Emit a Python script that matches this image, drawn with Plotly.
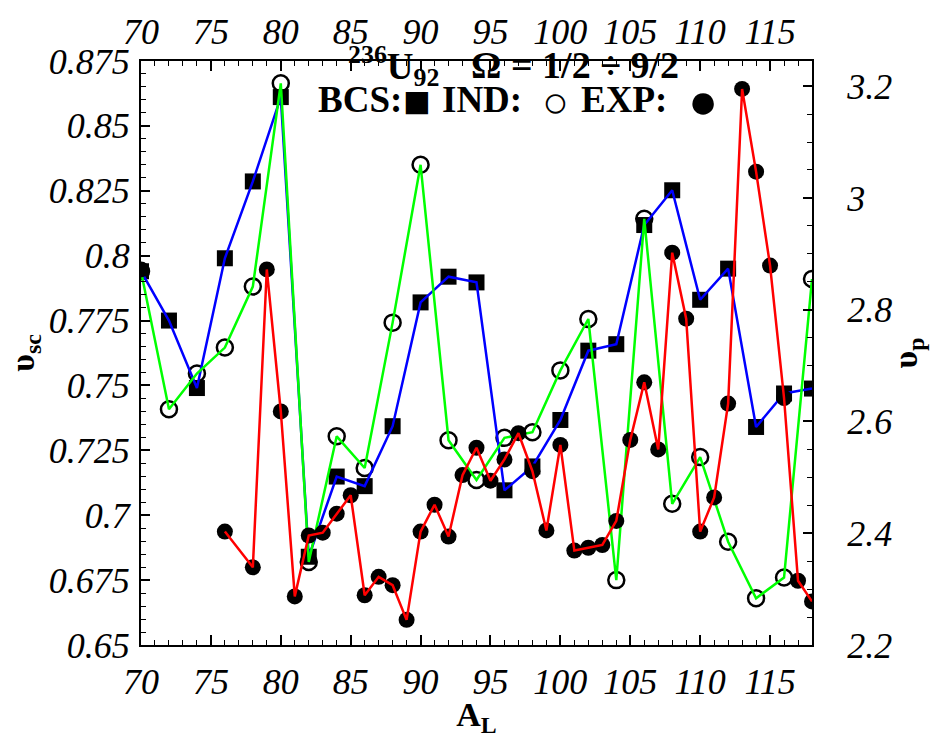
import plotly.graph_objects as go

# ---------------- data ----------------
A_even = [70, 72, 74, 76, 78, 80, 82, 84, 86, 88, 90, 92, 94, 96, 98, 100,
          102, 104, 106, 108, 110, 112, 114, 116, 118]
bcs = [0.794, 0.775, 0.749, 0.799, 0.8286, 0.8611, 0.684, 0.7149, 0.7112, 0.7343,
       0.782, 0.7919, 0.7897, 0.7096, 0.7188, 0.7367, 0.7634, 0.7659, 0.8118,
       0.8252, 0.783, 0.795, 0.734, 0.7469, 0.7488]
ind = [0.794, 0.7408, 0.7546, 0.7646, 0.7881, 0.8664, 0.682, 0.7304, 0.7182, 0.7742,
       0.835, 0.7289, 0.7136, 0.7298, 0.732, 0.7558, 0.7756, 0.675, 0.8142,
       0.7044, 0.7224, 0.6898, 0.668, 0.676, 0.791]

# experimental values (right axis); None marks a break in the line
A_exp = [70, 75, 76, 78, 79, 80, 81, 82, 83, 84, 85, 86, 87, 88, 89, 90, 91, 92,
         93, 94, 95, 96, 97, 98, 99, 100, 101, 102, 103, 104, 105, 106, 107, 108,
         109, 110, 111, 112, 113, 114, 115, 116, 117, 118]
exp_vals = [2.872, None, 2.403, 2.339, 2.872, 2.618, 2.287, 2.396, 2.401, 2.435,
            2.468, 2.289, 2.322, 2.307, 2.245, 2.403, 2.451, 2.394, 2.504, 2.553,
            2.494, 2.532, 2.579, 2.511, 2.405, 2.558, 2.369, 2.374, 2.379, 2.422,
            2.567, 2.670, 2.550, 2.902, 2.784, 2.403, 2.464, 2.632, 3.195, 3.047,
            2.879, 2.642, 2.315, 2.278]

x_ticks = [70, 75, 80, 85, 90, 95, 100, 105, 110, 115]

# ---------------- figure ----------------
fig = go.Figure()

# markers first (lines are drawn over them in the reference)
fig.add_trace(go.Scatter(x=A_even, y=bcs, mode="markers",
                         marker=dict(symbol="square", size=16, color="black"),
                         showlegend=False, hoverinfo="skip"))
fig.add_trace(go.Scatter(x=A_even, y=ind, mode="markers",
                         marker=dict(symbol="circle-open", size=16, color="black",
                                     line=dict(width=2.5, color="black")),
                         showlegend=False, hoverinfo="skip"))
fig.add_trace(go.Scatter(x=A_exp, y=exp_vals, mode="markers", yaxis="y2",
                         marker=dict(symbol="circle", size=16, color="black"),
                         showlegend=False, hoverinfo="skip"))

# lines
fig.add_trace(go.Scatter(x=A_even, y=bcs, mode="lines",
                         line=dict(color="#0000ff", width=2.5),
                         showlegend=False, hoverinfo="skip"))
fig.add_trace(go.Scatter(x=A_even, y=ind, mode="lines",
                         line=dict(color="#00ff00", width=2.5),
                         showlegend=False, hoverinfo="skip"))
fig.add_trace(go.Scatter(x=A_exp, y=exp_vals, mode="lines", yaxis="y2",
                         line=dict(color="#ff0000", width=2.5),
                         connectgaps=False,
                         showlegend=False, hoverinfo="skip"))

# invisible trace to anchor the top x axis
fig.add_trace(go.Scatter(x=A_even, y=bcs, xaxis="x2", mode="markers",
                         marker=dict(opacity=0), showlegend=False, hoverinfo="skip"))

tickfont = dict(family="Liberation Serif", size=36, color="black", style="italic")
minor_x = dict(dtick=1, ticks="inside", ticklen=5, tickcolor="black", tickwidth=1)

fig.update_layout(
    width=930, height=738,
    margin=dict(l=141, r=98, t=36, b=89),
    paper_bgcolor="white", plot_bgcolor="white",
    xaxis=dict(range=[70, 118], tickvals=x_ticks, ticks="inside", ticklen=10,
               tickwidth=1.5, tickcolor="black", minor=minor_x,
               showline=True, linecolor="black", linewidth=2, mirror=True,
               showgrid=False, zeroline=False, tickfont=tickfont, ticklabelstandoff=4,
               title=dict(text="<b>A<sub>L</sub></b>",
                          font=dict(family="Liberation Serif", size=34, color="black"),
                          standoff=0)),
    xaxis2=dict(range=[70, 118], overlaying="x", side="top", anchor="y",
                tickvals=x_ticks, ticks="inside", ticklen=10, tickwidth=1.5,
                tickcolor="black", minor=minor_x,
                showline=True, linecolor="black", linewidth=2,
                showgrid=False, zeroline=False, tickfont=tickfont, ticklabelstandoff=1),
    yaxis=dict(range=[0.65, 0.875], tick0=0.65, dtick=0.025, ticks="inside",
               ticklen=9, tickwidth=1.5, tickcolor="black",
               minor=dict(dtick=0.005, ticks="inside", ticklen=5, tickcolor="black", tickwidth=1),
               showline=True, linecolor="black", linewidth=2,
               showgrid=False, zeroline=False, tickfont=tickfont, ticklabelstandoff=2,
               title=dict(text="<b>υ<sub>sc</sub></b>",
                          font=dict(family="Liberation Serif", size=34, color="black"),
                          standoff=4)),
    yaxis2=dict(range=[2.2, 3.245], overlaying="y", side="right", anchor="x",
                tick0=2.2, dtick=0.2, ticks="inside", ticklen=9, tickwidth=1.5,
                tickcolor="black",
                minor=dict(dtick=0.05, ticks="inside", ticklen=5, tickcolor="black", tickwidth=1),
                showline=True, linecolor="black", linewidth=2,
                showgrid=False, zeroline=False, tickfont=tickfont, ticklabelstandoff=26,
                title=dict(text="<b>υ<sub>p</sub></b>",
                           font=dict(family="Liberation Serif", size=34, color="black"),
                           standoff=2)),
)


def px_x(px):
    return (px - 141) / 691


def px_y(py):
    return (649 - py) / 613


labels = [
    (352, 41, "<b><sup>236</sup>U<sub>92</sub></b>", 37),
    (479, 40, "<b>Ω = 1/2 ÷ 9/2</b>", 38),
    (321, 76, "<b>BCS:</b>", 37),
    (449, 76, "<b>IND:</b>", 37),
    (592, 76, "<b>EXP:</b>", 37),
]
for lx, ly, txt, fs in labels:
    fig.add_annotation(x=px_x(lx), y=px_y(ly), xref="paper", yref="paper",
                       xanchor="left", yanchor="middle", showarrow=False,
                       text=txt, font=dict(family="Liberation Serif", size=fs, color="black"))

symbols = [(425, 78, "■", 46), (568, 80, "○", 44), (720, 78, "●", 50)]
for sx, sy, sym, fs in symbols:
    fig.add_annotation(x=px_x(sx), y=px_y(sy), xref="paper", yref="paper",
                       xanchor="center", yanchor="middle", showarrow=False,
                       text=sym, font=dict(family="Liberation Serif", size=fs, color="black"))

fig.write_html("out.html")
